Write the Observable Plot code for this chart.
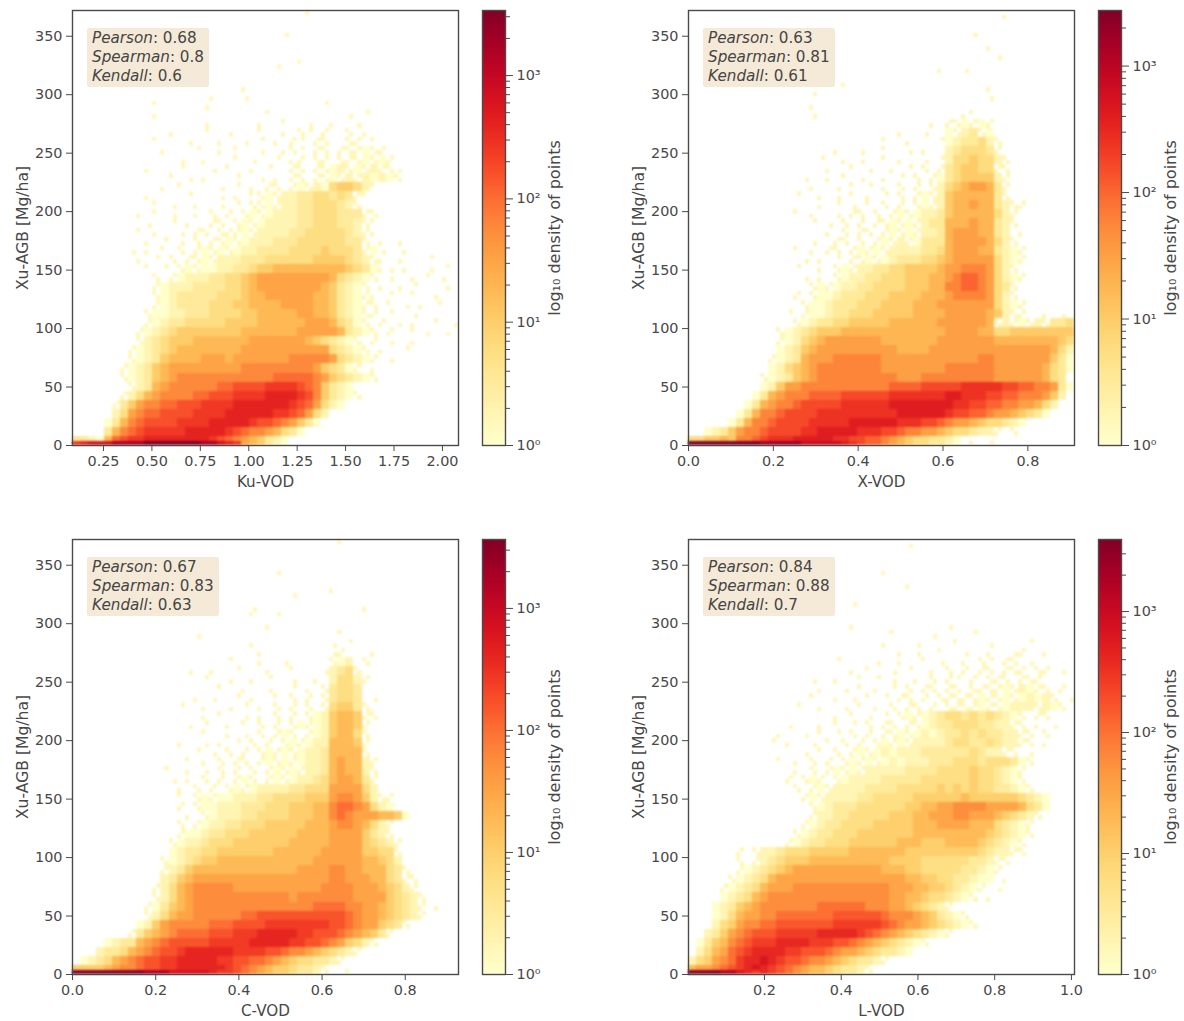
<!DOCTYPE html>
<html><head><meta charset="utf-8">
<script src="https://cdn.jsdelivr.net/npm/d3@7"></script>
<script src="https://cdn.jsdelivr.net/npm/@observablehq/plot@0.6"></script>
<style>
html,body{margin:0;padding:0;background:#fff}
#page{position:relative;width:1184px;height:1021px;overflow:hidden;font-family:"DejaVu Sans",sans-serif}
#page svg{position:absolute;max-width:none;overflow:visible}
.stat{position:absolute;background:#f5ead8;border-radius:2px;padding:1px 5px 2px 5px;font-size:15.2px;line-height:18.8px;color:#454545;white-space:nowrap}
</style></head><body><div id="page"></div>
<script>
// Density. Each row runs top to bottom, "firstColumn:levels".
// Hex digit = density level; g h i j m n = isolated speckles inside a coarse cell
const kuRows = [
"29:i","","26:h","","","28:g","25:j","","21:g","17:g000h",
"10:i00000h00000000000000j",
"10:g0000000000000i000000000h0j",
"16:h000000g00i00h00g00h",
"12:g000j00h000i00g0nj0m00n0g",
"10:i000h000g00h0j0g0mj0mn00nm0i",
"11:g000j00g0i00h00gnj0mn0mnm1nm",
"13:h00g000i0h00j0gm0nm0nmn1n1m",
"9:g000j000h0i00g0j00mn0mn12n1n2mnh",
"12:i0h0g000j00h0g0mn0mn1n2m2121n0000000j0mn",
"11:g0i0000h0j0g0mn0 m1n21 4554 2 i",
"9:g0000j000h0g0i n1n2 2334434 3mi",
"10:i0h00g00h0j0n n1m2 2334443 2n",
"8:g0i0h00g0n0m0n 1n 1222 3344433 3mn",
"9:h00j0g00mn0n 1n12222 3344433 2ni",
"8:i0g00h0mn0nm m1n2222 33444443 2mg",
"9:g0j0h0n0mn1 n12223 334444443 3n0g0h",
"7:h0g0i0n0m 1n1n 122333 344445444 3m1h00g",
"8:g0j0n0mn 1n22 233344 444455554 32ng0h000j",
"9:i0j0n1n112233 455666666666 5431gh0g00h0j",
"10:n0m122233445 67777777776 4321n0h00g0i0g",
"10:m12223333445 67777777765 321n0g0h0j000h0j",
"10:n12333334445 66777777665 321mg0j00i00g",
"10:m12333344455 66667777665 321mn0i0h0g0j",
"9:n112233344445 56666677665 321nm0j00h",
"9:m123344444555 56666667776 431n0m0h0g00i0h",
"8:m1234555555556 66666677777 6321n0m00i0g0h",
"8:n2345556666666 77777776543 21n0m0h00g",
"7:m12345666666667 7777777777 4321n0g00j",
"7:n12356666777677 7777788888 74321m0h",
"6:m123567777777778 8888888875 431m0g",
"6:n123567888888888 8889999987 54321n",
"7:n236788888899aaaabbbba985321",
"6:m24678888 99aaa bbbb cccc b a 8 5 3 2 1 n",
"5:m3578899aaabbbbcccccccba97 4 2 1",
"5:2 4 7 899 aaaa bbbb cccccc bb a 9 7 4 2",
"4:1 3 6 8 9 aaaa bbbb ccccc ba a9 8 7 5 3 1",
"4:3 6 8 9a bbbbb ccccc ba 98 8 7 6 4 3 1",
"0:3321 6 9 abb cccccccc ba 98 76 5 3 2 1"];
const xRows = [
"39:g","","35:h","","37:i","38:j","31:g00h","",
"19:i00000000000000000g","15:j000000000000000000000h","15:g",
"15:h000000000000000000gi",
"30:g0 mn1m1m",
"26:g00h00 1n23n1",
"24:i00g000j 1233 4 2 n",
"18:g00h00i00h0g00 234443 m",
"16:j00g0h00i0g00h0j 244544 2n",
"16:0g00i0h00g0j0n0m 345544 mn",
"14:h00g0i0h00g0j0n0m1 345555 2m",
"14:0g00h0i0j0g0n0m0n2 456776 3m",
"13:j00g0h0i0g0j0n0m1n2 566666 3n",
"16:g0j0h0i0n0m0n1m2 566766 32nm",
"13:i0g00h0mn0n0m1n1223 566666 42m",
"15:j0h0n0m0mn1n1m233 666766 32n",
"17:g0n0mn0m1n1m223 677766 32 0g",
"15:h00mn0n0m1n2m1333 677776 42n",
"13:i0g0mn0m1m1n2222334 677766 321m",
"13:0h0g0j0mn1n12333445 677777 421m",
"13:j00g0n1m22334455556 778887 42n",
"14:h0g0n1223344455566 789987 421m",
"14:0n1m12233444455566 889987 43n",
"13:m0n1123334445555666 788887 42n",
"13:0n11233344455556667 777777 421m",
"12:j0m11233444555556666 777776 52nm00g0h",
"13:n123344555556666667 777776 n2m1n2n3 345",
"11:n12345556666666666666 777766 4455555 5554",
"11:m12456777777766666667 777777 6666666654",
"11:123567777777777666677 777777 7777777642",
"10:m123677788888877777777 777788 7777777531",
"10:1245678888888877777777 888888 7777776431",
"9:n1235678888888888777888 888888 777777643",
"9:125 77888 888888889 999aaa aabbbb baa9988 7 3 1",
"8:13 6 7888 9999aaa aaabbbbbbb ccbbba a998887 5 2",
"7:1 3 6 788 9aaaaa bbbbbb ccccccc cb baa 998877 6 4 2",
"6:1 3 6 88 9aaaa bbbbbbbbbb cccccc ba a998 77654 31",
"5:1 3 6 88 9aaaa bbbbbcccccc bbbaa 98 77654 4321",
"0:001235 7889 aaaab bccccc bbba a9887 7654432 2m0n",
"0:445565 889a bbbccccc bbaa9 987654 43321 0g0h"];
const cRows = [
"33:i","","","25:h","","32:g","27:j","22:h0000000000000g","22:i00j","24:g",
"15:h00000000000000000i",
"22:g000000000h 0 j",
"23:g00000000hm000g",
"19:j000g00h00000 n12 0n",
"14:h00g00j000g00i000h 234 n",
"16:j00h00g0j00h00g0 244 2 m",
"18:i00g00h00j0g0n 344 3",
"15:g0h00j0g00i0n0m0n 344 3 0h",
"13:j00g00h0j0g0n0m0n0n 455 3 n",
"16:g0i00h0g0n0m0n12 5665 mn",
"14:h0j00g0i0n0m0n1m12 5665 m",
"16:i00g0h0n0m1n0m12 5664 n",
"13:g00h0g0j0n0m0n1m122 6665 m",
"14:0j0h0n0m0n1m1n1223 6666 n",
"14:i0g0n0mn0m1n1m1223 6766 2m",
"11:j00g0h0n0m0n0m1n1m223 6766 2n",
"12:h0g0n0m0m1n0m1n12234 6776 3m",
"13:g0n0m0n1m1222233444 7777 42",
"13:i0n1m11222334444555 7887 52nm",
"13:m0n1122233344455566 8998 7421",
"14:g0n122233444455566 8987 776651",
"13:n0m1223344455555666 7887 642m",
"13:m1 12334445555556666 7777 532n",
"12:n1223444555555566666 7777 5432 m",
"12:12334455555556666667 7777 5544n",
"11:n12345566666666666677 7777 66542",
"11:m23566666666666667777 8877 66643 n",
"11:235677777777777777777 8877 76643 mn",
"10:m246788888777777777778 8887 77654 2m",
"10:n246788888888888878888 8887 77754 32n",
"9:m1356788888888888888899 9988 77654 32m0g",
"9:n246 77888888 99aaaaaaaaaaa 9 877 654 32m",
"8:12 5 788888 999aaaa bbbbbbbba a9 877 543 n",
"7:m 3 5 6 78 9999aaa bbbcccccb baaa 987 65 3m",
"4:1233 678 9aaaaa bbbbbcccccb baa9 87 54 2n",
"3:2334 6789 aab cccccc bbbbaa 9887 654 32m",
"1:1234 6789 aabb ccccc bbaa9 98765 4433 2m",
"0:5555 6 7889 aabb cccccc ba9 876554 332 n00g"];
const lRows = [
"27:h","","","24:g","","27:i","","20:j","",
"20:g00000000000h",
"25:i0000h0000j",
"24:g000h0000i000h0000j",
"26:g0h00i00h00g00hm00g00",
"18:j0000h00g00i0h00g0nj0mn0h",
"20:g0i00h0j00g0n0m0mn0mnm0nm0h",
"15:h00g00i0j0h00g0n0mj0m0nmn0mnm",
"16:g00h0i0g0j0n0mn0mn0nmnm1n21mn0m",
"15:i00g0h0i0j0mn0m0nmnmn1mn1n1212n0h",
"13:j00g00h0i0g0n0mn0m0nmnm1mn1222n21n00g",
"18:g0i0h0j0n1m12 3443434 321n0mn",
"12:h000g0i0j0n0mn0mn12 3344433 22mn0g0h",
"11:g00h0i0j0n0m0mn1n1212 3343433 22mn0n",
"10:j0g00h0i0n0m0n1m1n2222 3443343 22mn0g",
"14:h0i0n0m1n1212223 3333343 22mn0h",
"11:i0g0n0m0n1m1n121222333 4443444 31n",
"13:g0n0m1n1m222223333 4444544 321m",
"12:m0n1m0n122223333344 4444544 321n",
"13:n0m1n2222333344444 5454544 3321n",
"14:m1n22223344444555 5556555 5554321",
"15:n123334444445566 7788887 7776431",
"15:m223344444555667 7788777 65432n",
"14:m1233444455555666 7777666 4321m",
"13:n12334445555555666 6666665 4321n",
"12:m123344455555566655 5666654 321n",
"6:m0n2234445555566666665555 5555543 22mn",
"6:n0m2345556666666666555544 4444332 mn",
"6:m123456777777777776665544 4443321 m",
"5:n1234677777777777777776655 4433211 0g",
"4:m12346777888888888888777665 54321m 0h",
"4:123467888888888888888776654 4321 n0g",
"3:1235 678888888 999999 888 77 6 5 4 3 2 m",
"3:1 2 4 6 7788 9999999 aaaaaa9 888765 321n0",
"3:2 4 5 7 8899 aaaa aaabbbbbb a987 7654 321n",
"2:2 3 5 7 8 9aa abbbb bcccccb a98 7654 321 m",
"1:1 3 5 6 8 9abb bccccb bbaa 9876 543 21n",
"1:2 4 6 7 9 abccc cbbaa a987 7654 3321",
"0:2 4 5 7 8 9bccd cba a98 8765 4332 m",
"0:6 7 7 8 9 abcdc ba98 7665 4332 n"];
// Thin saturated strip along y = 0
const kuStrip = "bcdddeeeefffffffeedcb";
const xStrip  = "fffffffffeeeeedddddcb";
const cStrip  = "fffffffffeeedddddcb";
const lStrip  = "ffffeedcb";

const panelNames = ["Ku-VOD","X-VOD","C-VOD","L-VOD"];
const xDomains = [[0.09,2.083],[0,0.91],[0,0.928],[0.002,1.008]];
const xTicks = [[0.25,0.5,0.75,1,1.25,1.5,1.75,2],[0,0.2,0.4,0.6,0.8],[0,0.2,0.4,0.6,0.8],[0.2,0.4,0.6,0.8,1]];
const xFormats = [".2f",".1f",".1f",".1f"];
const yTicks = [0,50,100,150,200,250,300,350];
const yMax = 372;
const colorMax = [3370,2750,3670,3940];
const colorTicks = [1,10,100,1000];
const colorLabels = ["10⁰","10¹","10²","10³"];
const pearson = ["0.68","0.63","0.67","0.84"];
const spearman = ["0.8","0.81","0.83","0.88"];
const kendall = ["0.6","0.61","0.63","0.7"];
const allRows = [kuRows,xRows,cRows,lRows];
const allStrips = [kuStrip,xStrip,cStrip,lStrip];

const NX = 48, NY = 48, stripH = 3.7;
const logLevels = {"1":0,"2":0.25,"3":0.5,"4":0.75,"5":1,"6":1.25,"7":1.5,"8":1.75,"9":2,a:2.2,b:2.4,c:2.6,d:2.8,e:3.2,f:3.5};
const speckles = {g:[[0,0]],h:[[1,0]],i:[[0,1]],j:[[1,1]],m:[[0,0],[1,1]],n:[[1,0],[0,1]]};
const speckleValue = 1.6;
function cellsOf(rows, strip, dom){
  const w = (dom[1]-dom[0])/NX, h = yMax/NY, out = [];
  rows.forEach((s,i)=>{
    if(!s) return;
    const [st,lv] = s.split(":");
    const r = rows.length-1-i;
    lv.replace(/ /g,"").split("").forEach((ch,j)=>{
      const c = +st+j;
      if(ch==="0"||c>=NX) return;
      if(speckles[ch]){
        speckles[ch].forEach(([a,b])=>out.push({x1:dom[0]+(c+a/2)*w,x2:dom[0]+(c+a/2+.5)*w,y1:(r+b/2)*h,y2:(r+b/2+.5)*h,v:speckleValue}));
      } else {
        out.push({x1:dom[0]+c*w,x2:dom[0]+(c+1)*w,y1:r*h,y2:(r+1)*h,v:Math.pow(10,logLevels[ch])});
      }
    });
  });
  strip.split("").forEach((ch,c)=>{
    out.push({x1:dom[0]+c*w,x2:dom[0]+(c+1)*w,y1:0,y2:stripH,v:Math.pow(10,logLevels[ch])});
  });
  return out;
}
const text = "#484848", frame = "#4a4a4a";
const baseStyle = {fontFamily:"'DejaVu Sans',sans-serif",fontSize:"14.4px",background:"transparent",color:text};
const page = document.getElementById("page");
const lefts = [0,616,0,616], tops = [0,0,529,529];

panelNames.forEach((name,i)=>{
  const color = {type:"log",scheme:"YlOrRd",domain:[1,colorMax[i]]};
  const main = Plot.plot({
    width:470,height:510,marginLeft:72,marginRight:12,marginTop:10,marginBottom:65,
    style:baseStyle,
    x:{domain:xDomains[i]},y:{domain:[0,yMax]},color,
    marks:[
      Plot.rect(cellsOf(allRows[i],allStrips[i],xDomains[i]),{x1:"x1",x2:"x2",y1:"y1",y2:"y2",fill:"v",shapeRendering:"crispEdges"}),
      Plot.axisX({ticks:xTicks[i],tickFormat:d3.format(xFormats[i]),tickSize:6,tickPadding:4,stroke:frame,label:null,fontSize:14.4}),
      Plot.axisY({ticks:yTicks,tickSize:6,tickPadding:4,stroke:frame,label:null,fontSize:14.4}),
      Plot.axisX({ticks:[],label:name,labelAnchor:"center",labelArrow:"none",labelOffset:41,fontSize:15.2}),
      Plot.axisY({ticks:[],label:"Xu-AGB [Mg/ha]",labelAnchor:"center",labelArrow:"none",labelOffset:56,fontSize:15.6}),
      Plot.frame({stroke:frame,strokeWidth:1.4})
    ]
  });
  main.style.left = lefts[i]+"px"; main.style.top = tops[i]+"px";
  const cellGroup = main.querySelector('g[aria-label="rect"]');
  if(cellGroup) cellGroup.style.filter = "blur(0.9px)";
  page.appendChild(main);

  const stops = d3.range(0,220).map(k=>Math.pow(colorMax[i],k/220));
  const stopsNext = d3.range(1,221).map(k=>Math.pow(colorMax[i],k/220));
  const minor = [];
  for(let e=0;e<4;e++) for(let m=2;m<10;m++){const v=m*Math.pow(10,e); if(v<colorMax[i]) minor.push(v);}
  const bar = Plot.plot({
    width:130,height:510,marginLeft:10,marginRight:97,marginTop:10,marginBottom:65,
    style:baseStyle,
    x:{domain:[0,1],axis:null},y:{type:"log",domain:[1,colorMax[i]]},color,
    marks:[
      Plot.rect(stops,{x1:0,x2:1,y1:d=>d,y2:(d,j)=>stopsNext[j],fill:d=>d,shapeRendering:"crispEdges",stroke:d=>d,strokeWidth:0.6}),
      Plot.axisY({anchor:"right",ticks:minor,tickFormat:()=>"",tickSize:4,stroke:frame,label:null}),
      Plot.axisY({anchor:"right",ticks:colorTicks,tickFormat:d=>colorLabels[Math.round(Math.log10(d))],tickSize:7,tickPadding:4,stroke:frame,label:null,fontSize:14.4}),
      Plot.axisY({anchor:"right",ticks:[],label:"log₁₀ density of points",labelAnchor:"center",labelArrow:"none",labelOffset:54,fontSize:16}),
      Plot.frame({stroke:frame,strokeWidth:1.4})
    ]
  });
  bar.style.left = (lefts[i]+472)+"px"; bar.style.top = tops[i]+"px";
  page.appendChild(bar);

  const box = document.createElement("div");
  box.className = "stat";
  box.style.left = (lefts[i]+87)+"px"; box.style.top = (tops[i]+28)+"px";
  box.innerHTML = `<i>Pearson</i>: ${pearson[i]}<br><i>Spearman</i>: ${spearman[i]}<br><i>Kendall</i>: ${kendall[i]}`;
  page.appendChild(box);
});
</script></body></html>
